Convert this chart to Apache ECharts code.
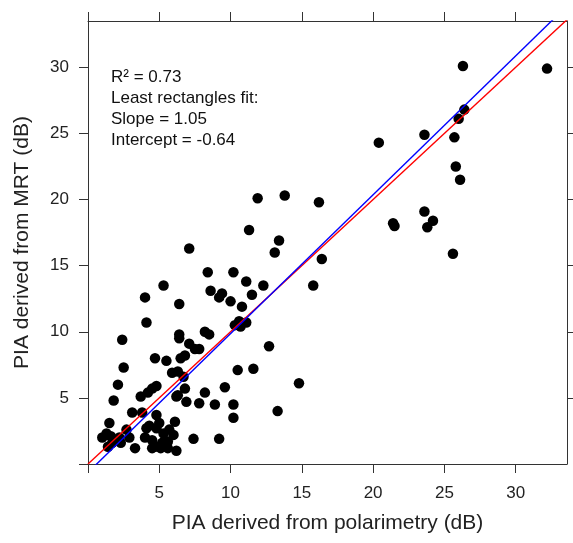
<!DOCTYPE html>
<html>
<head>
<meta charset="utf-8">
<script src="https://cdn.jsdelivr.net/npm/echarts@6/dist/echarts.min.js"></script>
<style>
  html, body { margin: 0; padding: 0; background: #fff; }
  #chart { width: 573px; height: 543px; }
</style>
</head>
<body>
<div id="chart"></div>
<script>
// PIA from polarimetry (x) and from MRT (y), dB
const piaPol = [
  26.3, 32.2, 26.4, 26.0, 23.6, 25.7, 20.4, 25.8, 26.1, 16.2, 23.6, 24.2, 21.4, 21.5, 23.8, 16.4, 25.6, 15.8, 14.8,
  11.9, 13.8, 11.3, 13.4, 13.1, 7.1, 8.4, 10.2, 11.1, 12.3, 5.3, 4.0, 6.4, 8.6, 9.4, 9.2, 10.0, 11.5, 10.8,
  4.1, 2.4, 6.4, 6.4, 8.2, 8.5, 7.1, 7.5, 7.8, 4.7, 5.5, 6.5, 6.8, 2.5, 5.9, 6.3, 6.7, 2.1, 10.6, 10.3, 11.1, 10.7,
  12.7, 10.5, 11.6, 13.3, 9.2, 10.2, 10.2, 8.9, 9.6,
  1.8, 3.7, 4.2, 4.5, 4.8, 6.3, 6.9, 6.8, 8.2, 7.8, 3.1, 3.8, 4.8, 5.0, 4.3, 6.1, 5.7, 5.3, 1.5, 1.3, 1.0, 1.6,
  1.7, 2.2, 2.3, 1.4, 2.7, 2.9, 3.3, 4.0, 4.1, 4.5, 4.5, 5.1, 5.6, 6.0, 6.2, 5.6, 7.4, 4.8, 6.2, 4.7, 5.2
];
const piaMrt = [
  30.1, 29.9, 26.8, 26.1, 24.9, 24.7, 24.3, 22.5, 21.5, 19.8, 19.1, 18.4, 18.2, 18.0, 17.9, 15.5, 15.9, 13.5, 6.1,
  20.1, 20.3, 17.7, 16.9, 16.0, 16.3, 14.5, 14.5, 13.8, 13.5, 13.5, 12.6, 12.1, 13.1, 12.9, 12.6, 12.3, 12.8, 11.9,
  10.7, 9.4, 9.8, 9.5, 10.0, 9.8, 9.1, 8.7, 8.7, 8.0, 7.8, 8.0, 8.2, 7.3, 6.9, 7.0, 6.6, 6.0, 10.8, 10.5, 10.7, 10.4,
  8.9, 7.1, 7.2, 4.0, 1.9, 3.5, 4.5, 4.5, 5.8,
  4.8, 5.1, 5.4, 5.7, 5.9, 5.2, 4.7, 5.7, 5.4, 4.6, 3.9, 3.9, 3.7, 3.1, 2.9, 3.2, 2.6, 2.3, 3.1, 2.3, 2.0, 2.1,
  1.6, 2.0, 1.6, 1.3, 2.6, 2.0, 1.2, 2.0, 2.7, 1.8, 1.2, 1.2, 1.7, 2.2, 1.0, 1.2, 1.9, 2.7, 5.1, 1.3, 1.6
];

const tickValues = [0, 5, 10, 15, 20, 25, 30];
const labelValues = [5, 10, 15, 20, 25, 30];
const rightTickValues = [5, 10, 15, 20, 25, 30];

const fitSlope = 1.05;
const fitIntercept = -0.64;
const statsText = ['R\u00b2 = 0.73', 'Least rectangles fit:', 'Slope = 1.05', 'Intercept = -0.64'];

const xMax = 33.6;
const yMax = 33.5;

const FONT = '"Liberation Sans", Arial, sans-serif';
const AXIS_COLOR = '#333';

const points = piaPol.map((x, i) => [x, piaMrt[i]]);
const oneToOne = [[0, 0], [40, 40]];
const fitLine = [[0, fitIntercept], [40, fitSlope * 40 + fitIntercept]];

const chart = echarts.init(document.getElementById('chart'));

function frameAxis(extra) {
  return Object.assign({
    type: 'value',
    min: 0,
    axisLine: { show: true, onZero: false, lineStyle: { color: AXIS_COLOR, width: 1 } },
    splitLine: { show: false }
  }, extra);
}

chart.setOption({
  animation: false,
  backgroundColor: '#fff',
  grid: { left: 88, right: 6, top: 21, bottom: 79, containLabel: false },
  xAxis: [
    frameAxis({
      position: 'bottom', max: xMax,
      name: 'PIA derived from polarimetry (dB)',
      nameLocation: 'middle', nameGap: 49,
      nameTextStyle: { fontFamily: FONT, fontSize: 21, color: '#222' },
      axisTick: { show: true, length: 9, customValues: tickValues, lineStyle: { color: AXIS_COLOR } },
      axisLabel: { customValues: labelValues, margin: 21, fontFamily: FONT, fontSize: 17, color: '#222' }
    }),
    frameAxis({
      position: 'top', max: xMax,
      axisTick: { show: true, length: 9, customValues: tickValues, lineStyle: { color: AXIS_COLOR } },
      axisLabel: { show: false }
    })
  ],
  yAxis: [
    frameAxis({
      position: 'left', max: yMax,
      name: 'PIA derived from MRT (dB)',
      nameLocation: 'middle', nameGap: 55,
      nameTextStyle: { fontFamily: FONT, fontSize: 21, color: '#222' },
      axisTick: { show: true, length: 9, customValues: tickValues, lineStyle: { color: AXIS_COLOR } },
      axisLabel: { customValues: labelValues, margin: 19, fontFamily: FONT, fontSize: 17, color: '#222' }
    }),
    frameAxis({
      position: 'right', max: yMax,
      axisTick: { show: true, length: 9, customValues: rightTickValues, lineStyle: { color: AXIS_COLOR } },
      axisLabel: { show: false }
    })
  ],
  graphic: [{
    type: 'text',
    left: 111, top: 67,
    style: {
      text: statsText.join('\n'),
      font: '17px ' + FONT,
      lineHeight: 21,
      fill: '#111'
    }
  }],
  series: [
    {
      type: 'scatter',
      data: points,
      symbol: 'circle',
      symbolSize: 10.5,
      itemStyle: { color: '#000', opacity: 1 },
      z: 2
    },
    {
      type: 'line',
      data: oneToOne,
      symbol: 'none',
      clip: true,
      lineStyle: { color: '#ff0000', width: 1.4 },
      z: 3
    },
    {
      type: 'line',
      data: fitLine,
      symbol: 'none',
      clip: true,
      lineStyle: { color: '#0000ff', width: 1.4 },
      z: 3
    }
  ]
});
</script>
</body>
</html>
